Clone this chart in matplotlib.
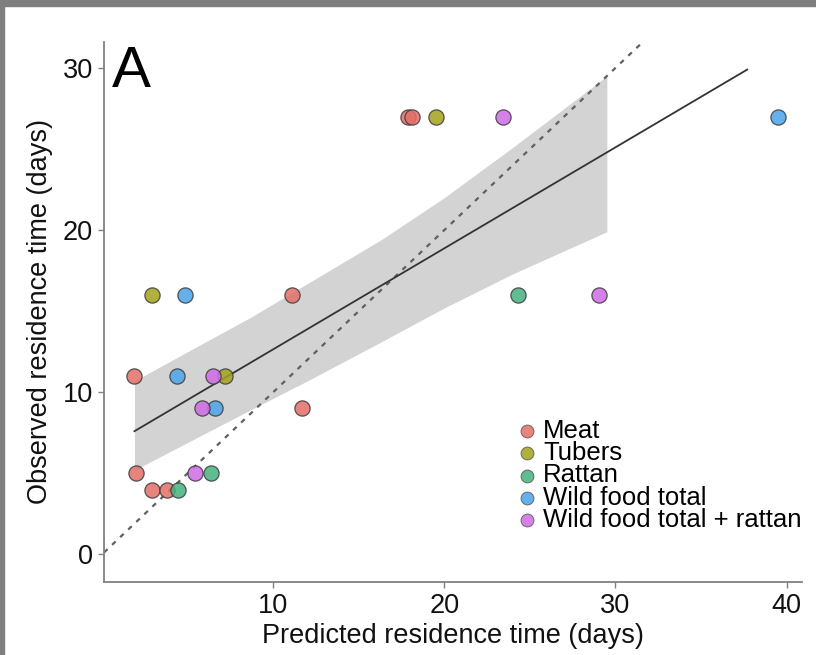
import matplotlib
matplotlib.use("Agg")
import numpy as np
from matplotlib import pyplot as plt
from matplotlib.patches import Rectangle

plt.rcParams['font.family'] = ['Liberation Sans', 'DejaVu Sans']

# observed vs predicted residence time, by food type
groups = ['Meat', 'Tubers', 'Rattan', 'Wild food total', 'Wild food total + rattan']
colors = ['#E26F66', '#A3A21C', '#45B27E', '#4AA4EA', '#CF6BE6']

meat_pred = [1.9, 2.0, 2.9, 3.8, 11.1, 11.7, 17.9, 18.1]
meat_obs = [11, 5, 4, 4, 16, 9, 27, 27]
tubers_pred = [2.9, 7.2, 19.5]
tubers_obs = [16, 11, 27]
rattan_pred = [4.45, 6.35, 24.3]
rattan_obs = [4, 5, 16]
wild_pred = [4.85, 4.4, 6.6, 39.5]
wild_obs = [16, 11, 9, 27]
wildr_pred = [6.5, 5.85, 5.45, 23.45, 29.05]
wildr_obs = [11, 9, 5, 27, 16]

# fitted line and its confidence band
fit_x = [1.9, 37.7]
fit_y = [7.6, 29.9]
band_x = [1.9, 5, 8.65, 12, 16.3, 20, 24, 29.5]
band_hi = [10.7, 12.5, 14.6, 16.7, 19.4, 22.0, 25.1, 29.5]
band_lo = [5.2, 6.9, 8.9, 10.7, 13.1, 15.2, 17.3, 19.9]

W, H = 816, 655
fig = plt.figure(figsize=(W / 100, H / 100), dpi=100)
ax = fig.add_axes([104 / W, 1 - 582 / H, (802 - 104) / W, (582 - 42) / H])

ax.fill_between(band_x, band_lo, band_hi, color='#d3d3d3', lw=0, zorder=1)
ax.axline((0, 0), slope=1, color='#606060', lw=1.6, ls=(0, (2.2, 2.8)), zorder=2)
ax.plot(fit_x, fit_y, color='#333333', lw=1.3, zorder=3)

series = [(meat_pred, meat_obs), (tubers_pred, tubers_obs), (rattan_pred, rattan_obs),
          (wild_pred, wild_obs), (wildr_pred, wildr_obs)]
handles = []
for (px, py), name, c in zip(series, groups, colors):
    ax.scatter(px, py, s=120, color=c, edgecolor='#3a3a3a', linewidth=0.9, alpha=0.85, zorder=4)
    handles.append(ax.scatter([], [], s=85, color=c, edgecolor='#555555', linewidth=0.7, alpha=0.85, label=name))

ax.set_xlim(0.12, 40.9)
ax.set_ylim(-1.7, 31.6)
ax.set_xticks([10, 20, 30, 40])
ax.set_yticks([0, 10, 20, 30])
for s in ['top', 'right']:
    ax.spines[s].set_visible(False)
for s in ['left', 'bottom']:
    ax.spines[s].set_color('#808080')
    ax.spines[s].set_linewidth(1.3)
ax.tick_params(colors='#808080', length=4, width=1, labelsize=19.5, labelcolor='#111111', pad=4)
ax.set_xlabel('Predicted residence time (days)', fontsize=19.5, color='#111111', labelpad=3)
ax.set_ylabel('Observed residence time (days)', fontsize=19.5, color='#111111', labelpad=7)

ax.text(0.012, 0.995, 'A', transform=ax.transAxes, fontsize=42, va='top', ha='left', color='black')

fig.legend(handles=handles, loc='upper left', bbox_to_anchor=(515 / W, 1 - 419 / H),
           frameon=False, fontsize=18.5, handletextpad=0.2, labelspacing=-0.07,
           borderaxespad=0, handlelength=0.9, borderpad=0)

# grey frame of the screenshot
fig.patches.append(Rectangle((0, 1 - 6 / H), 1, 6 / H, transform=fig.transFigure,
                             color='#7f7f7f', zorder=10))
fig.patches.append(Rectangle((0, 0), 4 / W, 1, transform=fig.transFigure,
                             color='#7f7f7f', zorder=10))

fig.savefig('out.png', dpi=100)
